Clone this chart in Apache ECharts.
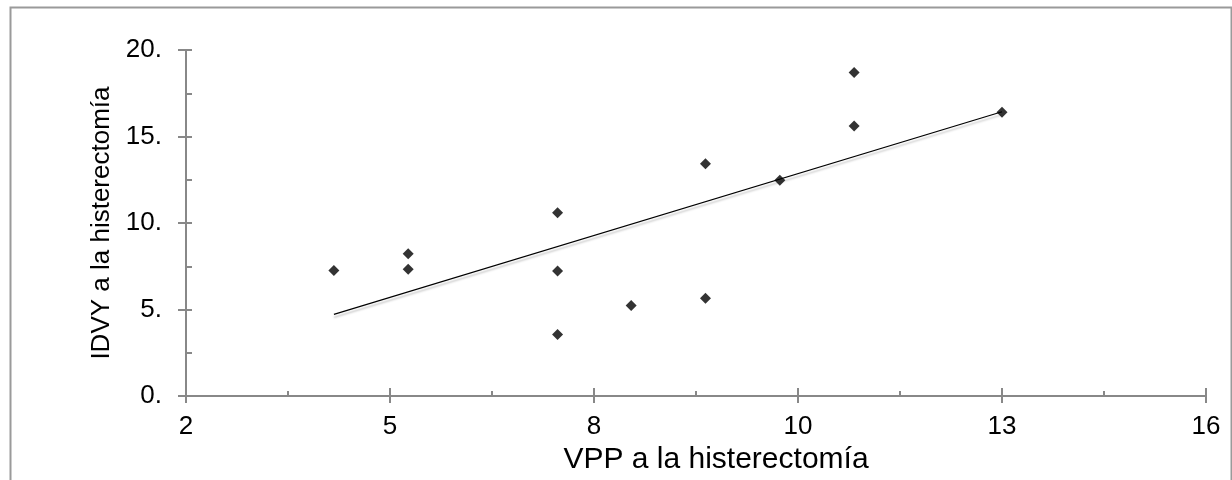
<!DOCTYPE html>
<html>
<head>
<meta charset="utf-8">
<script src="https://cdn.jsdelivr.net/npm/echarts@6/dist/echarts.min.js"></script>
<style>
html,body{margin:0;padding:0;background:#fff;}
#chart{width:1232px;height:480px;}
</style>
</head>
<body>
<div id="chart"></div>
<script>
/*数据: VPP 与 IDVY*/
var vpp  = [4.03, 5.05, 5.05, 7.10, 7.10, 7.10, 8.11, 9.13, 9.13, 10.15, 11.17, 11.17, 13.20];
var idvy = [7.26, 8.23, 7.33, 10.60, 7.23, 3.56, 5.24, 13.43, 5.66, 12.47, 18.70, 15.61, 16.40];
var xName = "VPP a la histerectomía";
var yName = "IDVY a la histerectomía";

/*最小二乘趋势线*/
function trend(xs, ys) {
	var n = xs.length, mx = 0, my = 0, sxy = 0, sxx = 0;
	for (var i = 0; i < n; i++) { mx += xs[i]; my += ys[i]; }
	mx /= n; my /= n;
	for (var i = 0; i < n; i++) {
		sxy += (xs[i] - mx) * (ys[i] - my);
		sxx += (xs[i] - mx) * (xs[i] - mx);
	}
	var b = sxy / sxx, a = my - b * mx;
	var x0 = Math.min.apply(null, xs), x1 = Math.max.apply(null, xs);
	return [[x0, a + b * x0], [x1, a + b * x1]];
}

var points = vpp.map(function(v, i) { return [v, idvy[i]]; });
var font = "Liberation Sans";
var axisColor = "#888888";

var chart = echarts.init(document.getElementById("chart"));
chart.setOption({
	animation: false,
	backgroundColor: "#fff",
	graphic: [{
		type: "rect",
		left: 8, top: 5,
		shape: { width: 1221, height: 500 },
		style: { fill: "none", stroke: "#9a9a9a", lineWidth: 2 },
		z: -1
	}],
	grid: { left: 186, right: 26, top: 50, bottom: 73 },
	xAxis: [{
		type: "value", min: 2, max: 16, interval: 2.8,
		position: "bottom",
		name: xName, nameLocation: "middle", nameGap: 43,
		nameTextStyle: { fontFamily: font, fontSize: 30, color: "#000", padding: [0, 0, 0, 40] },
		axisLine: { lineStyle: { color: axisColor, width: 2 } },
		axisTick: { length: 7, lineStyle: { color: axisColor, width: 2 } },
		axisLabel: { margin: 18, fontFamily: font, fontSize: 26, color: "#000",
			formatter: function(v) { return Math.round(v); } },
		splitLine: { show: false }
	}, {
		type: "value", min: 2, max: 16, interval: 2.8,
		position: "bottom",
		axisLine: { show: false },
		axisTick: { inside: true, length: 8, lineStyle: { color: axisColor, width: 2 } },
		minorTick: { show: true, splitNumber: 2, length: 5, lineStyle: { color: axisColor, width: 2 } },
		axisLabel: { show: false },
		splitLine: { show: false }
	}],
	yAxis: [{
		type: "value", min: 0, max: 20, interval: 5,
		position: "left",
		name: yName, nameLocation: "middle", nameGap: 67,
		nameTextStyle: { fontFamily: font, fontSize: 26, color: "#000" },
		axisLine: { show: true, lineStyle: { color: axisColor, width: 2 } },
		axisTick: { show: true, length: 8, lineStyle: { color: axisColor, width: 2 } },
		axisLabel: { margin: 24, fontFamily: font, fontSize: 26, color: "#000",
			formatter: function(v) { return v + "."; } },
		splitLine: { show: false }
	}, {
		type: "value", min: 0, max: 20, interval: 5,
		position: "left",
		axisLine: { show: false },
		axisTick: { show: true, inside: true, length: 6, lineStyle: { color: axisColor, width: 2 } },
		minorTick: { show: true, splitNumber: 2, length: 6, lineStyle: { color: axisColor, width: 2 } },
		axisLabel: { show: false },
		splitLine: { show: false }
	}],
	series: [{
		name: "trend",
		type: "line",
		data: trend(vpp, idvy),
		symbol: "none",
		lineStyle: { color: "#000", width: 1.2, shadowColor: "rgba(0,0,0,0.25)", shadowBlur: 2, shadowOffsetY: 3 },
		z: 2
	}, {
		name: "data",
		type: "scatter",
		data: points,
		symbol: "diamond",
		symbolSize: 11,
		itemStyle: { color: "#000" },
		z: 3
	}]
});
</script>
</body>
</html>
